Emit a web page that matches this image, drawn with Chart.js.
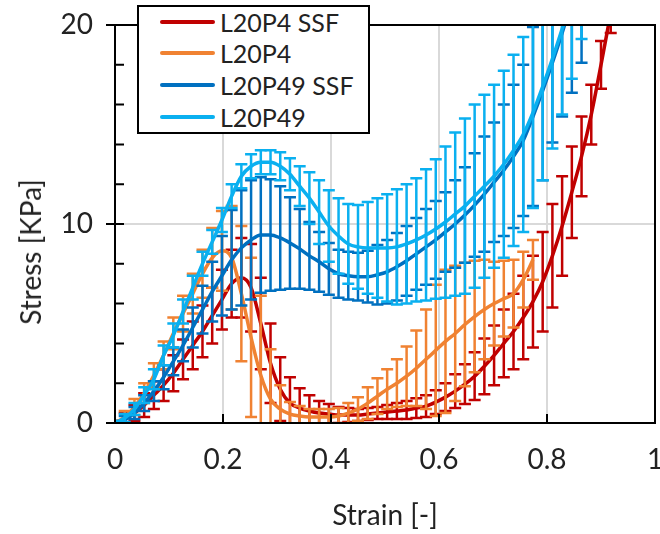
<!DOCTYPE html>
<html>
<head>
<meta charset="utf-8">
<script src="https://cdn.jsdelivr.net/npm/chart.js@4.4.1/dist/chart.umd.min.js"></script>
<style>
    body { margin: 0; background: #fff; }
    #wrap { position: relative; width: 660px; height: 534px; font-family: Lato, 'Open Sans', sans-serif; color: #222; }
    #chart { position: absolute; left: 0; top: 0; }
    .axis-title { position: absolute; font-size: 28px; white-space: nowrap; line-height: 1; }
    #xTitle { left: 385px; top: 514px; transform: translate(-50%, -50%); }
    #yTitle { left: 30px; top: 252px; transform: translate(-50%, -50%) rotate(-90deg); }
    #legend { position: absolute; left: 137px; top: 5px; width: 229px; height: 125px; border: 2px solid #000; background: #fff; }
    .item { position: absolute; left: 0; height: 30px; display: flex; align-items: center; font-size: 25px; white-space: nowrap; }
    .swatch { width: 55px; height: 4px; border-radius: 2px; margin-left: 21px; margin-right: 5px; }
</style>
</head>
<body>
<div id="wrap">
    <canvas id="chart" width="660" height="534"></canvas>
    <div id="legend"></div>
    <div class="axis-title" id="xTitle">Strain [-]</div>
    <div class="axis-title" id="yTitle">Stress [KPa]</div>
</div>
<script>
// Strain points shared by all series
const strain = [0, 0.018, 0.036, 0.054, 0.072, 0.09, 0.108, 0.126, 0.144, 0.162,
    0.18, 0.198, 0.216, 0.234, 0.252, 0.27, 0.288, 0.306, 0.324, 0.342,
    0.36, 0.378, 0.396, 0.414, 0.432, 0.45, 0.468, 0.486, 0.504, 0.522,
    0.54, 0.558, 0.576, 0.594, 0.612, 0.63, 0.648, 0.666, 0.684, 0.702,
    0.72, 0.738, 0.756, 0.774, 0.792, 0.81, 0.828, 0.846, 0.864, 0.882,
    0.9, 0.918];

// L20P4 SSF
const p4SsfStress = [0, 0.2, 0.5, 0.9, 1.4, 1.9, 2.5, 3.2, 3.9, 4.6,
    5.4, 6.2, 7.0, 7.3, 6.8, 5.0, 3.0, 1.7, 1.0, 0.75,
    0.6, 0.5, 0.45, 0.4, 0.4, 0.4, 0.45, 0.5, 0.55, 0.6,
    0.65, 0.75, 0.85, 1.05, 1.3, 1.6, 1.95, 2.35, 2.85, 3.4,
    4.0, 4.6, 5.3, 6.1, 7.1, 8.4, 9.9, 11.6, 13.4, 15.5,
    18.0, 20.6];
const p4SsfErr = [0.1, 0.3, 0.4, 0.6, 0.7, 0.8, 0.9, 1.0, 1.2, 1.3,
    1.4, 1.5, 1.7, 2.0, 2.2, 2.3, 2.0, 1.6, 1.3, 1.0,
    0.8, 0.6, 0.5, 0.4, 0.35, 0.3, 0.3, 0.3, 0.35, 0.4,
    0.45, 0.5, 0.55, 0.6, 0.7, 0.85, 1.0, 1.2, 1.4, 1.5,
    1.7, 1.9, 2.1, 2.3, 2.5, 2.6, 2.5, 2.3, 2.0, 1.5,
    1.2, 1.0];

// L20P4
const p4Stress = [0, 0.3, 0.8, 1.5, 2.4, 3.4, 4.5, 5.5, 6.5, 7.5,
    8.3, 8.65, 8.3, 6.5, 4.3, 2.4, 1.2, 0.7, 0.45, 0.35,
    0.3, 0.3, 0.3, 0.35, 0.5, 0.7, 1.0, 1.35, 1.7, 2.0,
    2.35, 2.75, 3.2, 3.65, 4.1, 4.5, 4.95, 5.35, 5.7, 6.0,
    6.25, 6.5, 7.2, 8.2];
const p4Err = [0.1, 0.3, 0.4, 0.5, 0.6, 0.7, 0.8, 0.9, 1.0, 1.2,
    1.5, 2.0, 2.6, 3.4, 4.0, 4.0, 2.5, 1.2, 0.6, 0.5,
    0.4, 0.4, 0.4, 0.4, 0.5, 0.6, 0.8, 0.9, 1.0, 1.2,
    1.5, 1.9, 2.5, 3.3, 3.6, 3.4, 3.1, 2.8, 2.5, 2.1,
    1.9, 1.7, 1.4, 1.0];

// L20P49 SSF
const p49SsfStress = [0, 0.15, 0.5, 1.0, 1.6, 2.3, 3.1, 3.9, 4.8, 5.7,
    6.6, 7.4, 8.2, 8.8, 9.2, 9.45, 9.45, 9.3, 9.05, 8.75,
    8.4, 8.1, 7.75, 7.5, 7.4, 7.35, 7.35, 7.45, 7.6, 7.85,
    8.15, 8.5, 8.85, 9.2, 9.6, 10.0, 10.45, 10.95, 11.5, 12.1,
    12.7, 13.4, 14.2, 15.4, 16.7, 18.1, 19.6, 21.2, 23.0];
const p49SsfErr = [0.1, 0.2, 0.3, 0.4, 0.5, 0.6, 0.7, 0.8, 1.0, 1.2,
    1.5, 2.0, 2.5, 2.9, 3.0, 2.9, 2.8, 2.6, 2.3, 2.0,
    1.7, 1.5, 1.3, 1.2, 1.2, 1.2, 1.3, 1.5, 1.6, 1.7,
    1.75, 1.8, 1.9, 1.95, 2.0, 2.2, 2.4, 2.6, 2.9, 3.0,
    3.3, 3.6, 3.8, 4.5, 4.5, 4.0, 4.2, 4.6, 4.9];

// L20P49
const p49Stress = [0, 0.25, 0.7, 1.4, 2.2, 3.4, 4.4, 5.6, 6.8, 8.0,
    9.1, 10.2, 11.4, 12.4, 12.9, 13.1, 13.1, 12.9, 12.5, 11.9,
    11.3, 10.6, 9.9, 9.4, 9.0, 8.85, 8.8, 8.8, 8.8, 8.85,
    9.0, 9.2, 9.45, 9.75, 10.1, 10.5, 10.9, 11.4, 11.9, 12.4,
    13.0, 13.7, 14.5, 15.6, 16.9, 18.3, 19.8, 21.3, 23.0];
const p49Err = [0.1, 0.2, 0.3, 0.4, 0.5, 0.5, 0.6, 0.6, 0.6, 0.6,
    0.6, 0.6, 0.6, 0.6, 0.6, 0.6, 0.6, 0.7, 0.8, 1.0,
    1.3, 1.6, 1.8, 1.9, 2.0, 2.1, 2.3, 2.5, 2.7, 2.9,
    3.0, 3.1, 3.3, 3.5, 3.8, 4.1, 4.4, 4.6, 4.6, 4.6,
    4.7, 4.8, 4.9, 4.8, 4.7, 4.5, 4.3, 4.0, 3.7];

const xTicks = [0, 0.2, 0.4, 0.6, 0.8, 1];
const yTickLabels = [0, 10, 20];

const series = [
    { label: 'L20P4 SSF', color: '#C00000', stress: p4SsfStress, err: p4SsfErr },
    { label: 'L20P4', color: '#F08232', stress: p4Stress, err: p4Err },
    { label: 'L20P49 SSF', color: '#0070C0', stress: p49SsfStress, err: p49SsfErr },
    { label: 'L20P49', color: '#0AB0F0', stress: p49Stress, err: p49Err }
];

// Error bars, drawn with each series through the chart scales
const errorBars = {
    id: 'errorBars',
    beforeDatasetDraw(chart, args) {
        const ds = chart.data.datasets[args.index];
        const { ctx, chartArea, scales: { x, y } } = chart;
        ctx.save();
        ctx.beginPath();
        ctx.rect(chartArea.left, chartArea.top, chartArea.width, chartArea.height);
        ctx.clip();
        ctx.strokeStyle = ds.borderColor;
        ctx.lineWidth = 2.5;
        ds.data.forEach((p, i) => {
            const e = ds.errors[i];
            const px = x.getPixelForValue(p.x);
            const top = y.getPixelForValue(p.y + e);
            const bot = y.getPixelForValue(p.y - e);
            ctx.beginPath();
            ctx.moveTo(px, top); ctx.lineTo(px, bot);
            ctx.moveTo(px - 6, top); ctx.lineTo(px + 6, top);
            ctx.moveTo(px - 6, bot); ctx.lineTo(px + 6, bot);
            ctx.stroke();
        });
        ctx.restore();
    }
};

// Plot frame and Excel-like tick marks
const frame = {
    id: 'frame',
    afterDatasetsDraw(chart) {
        const { ctx, chartArea: a, scales: { x, y } } = chart;
        ctx.save();
        ctx.strokeStyle = '#000';
        ctx.lineWidth = 2;
        ctx.beginPath();
        ctx.rect(a.left, a.top, a.width, a.height);
        ctx.stroke();
        ctx.beginPath();
        y.ticks.forEach(t => {
            const py = y.getPixelForValue(t.value);
            const major = yTickLabels.includes(t.value);
            ctx.moveTo(a.left - (major ? 9 : 0), py);
            ctx.lineTo(a.left + 9, py);
        });
        x.ticks.forEach(t => {
            if (t.value <= 0 || t.value >= 1) return;
            const px = x.getPixelForValue(t.value);
            ctx.moveTo(px, a.bottom);
            ctx.lineTo(px, a.bottom - 9);
        });
        ctx.stroke();
        ctx.restore();
    }
};

const tickFont = { family: 'Lato', size: 28 };

// keep the plot area where the reference has it
const noPad = s => { s.paddingTop = 0; s.paddingBottom = 0; s.paddingLeft = 0; s.paddingRight = 0; };

new Chart(document.getElementById('chart'), {
    type: 'line',
    data: {
        datasets: series.map((s, k) => ({
            label: s.label,
            data: s.stress.map((v, i) => ({ x: strain[i], y: v })),
            errors: s.err,
            borderColor: s.color,
            backgroundColor: s.color,
            borderWidth: 3.5,
            pointRadius: 0,
            cubicInterpolationMode: 'monotone',
            order: series.length - k
        }))
    },
    options: {
        responsive: false,
        animation: false,
        devicePixelRatio: 1,
        layout: { padding: { top: 25, right: 5, left: 0, bottom: 0 }, autoPadding: false },
        plugins: { legend: { display: false }, tooltip: { enabled: false } },
        scales: {
            x: {
                type: 'linear', min: 0, max: 1,
                afterFit: s => { s.height = 111; noPad(s); },
                afterBuildTicks: s => { s.ticks = xTicks.map(v => ({ value: v })); },
                ticks: { padding: 20, color: '#222', font: tickFont, maxRotation: 0, callback: v => String(Math.round(v * 10) / 10) },
                grid: { drawTicks: false, lineWidth: 2, color: c => (c.tick && c.tick.value > 0 && c.tick.value < 1) ? '#d9d9d9' : 'rgba(0,0,0,0)' },
                border: { display: false }
            },
            y: {
                min: 0, max: 20,
                afterFit: s => { s.width = 115; noPad(s); },
                ticks: { stepSize: 2, padding: 22, color: '#222', font: tickFont, callback: v => yTickLabels.includes(v) ? String(v) : '' },
                grid: { drawTicks: false, lineWidth: 2, color: c => (c.tick && c.tick.value === 10) ? '#d9d9d9' : 'rgba(0,0,0,0)' },
                border: { display: false }
            }
        }
    },
    plugins: [errorBars, frame]
});

// Legend box overlaid on the plot
const legend = document.getElementById('legend');
series.forEach((s, k) => {
    const row = document.createElement('div');
    row.className = 'item';
    row.style.top = [0, 31, 63, 95][k] + 'px';
    row.innerHTML = `<span class="swatch" style="background:${s.color}"></span><span>${s.label}</span>`;
    legend.appendChild(row);
});
</script>
</body>
</html>
